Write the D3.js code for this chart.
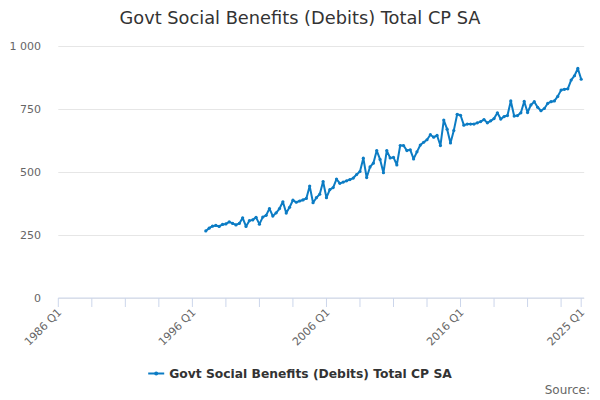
<!DOCTYPE html>
<html>
<head>
<meta charset="utf-8">
<script src="https://cdn.jsdelivr.net/npm/d3@7"></script>
<style>
  body { margin: 0; background: #fff; }
  svg { font-family: "DejaVu Sans", sans-serif; }
  .grid line { stroke: #e6e6e6; }
  .grid path { display: none; }
</style>
</head>
<body>
<div id="chart"></div>
<script>
// quarterly series, 1986 Q1 .. 2025 Q1 on the axis; data begins 1997 Q1
const FIRST_YEAR = 1986;
const LAST_LABEL = "2025 Q1";
const DATA_START = 44; // quarter index of 1997 Q1
const values = [
  266, 277, 285, 288, 284, 292, 294, 302, 296, 290, 296, 318,
  284, 307, 310, 320, 293, 321, 328, 355, 325, 338, 355, 382,
  337, 360, 388, 380, 385, 389, 395, 444, 378, 398, 412, 462,
  398, 430, 438, 472, 455, 460, 465, 470, 476, 490, 502, 555,
  478, 520, 535, 585, 550, 497, 585, 556, 558, 528, 605, 605,
  585, 588, 552, 580, 607, 618, 628, 648, 638, 645, 605, 706,
  670, 615, 665, 729, 725, 686, 690, 690, 690, 695, 700, 708,
  695, 703, 712, 735, 710, 720, 724, 782, 722, 724, 735, 780,
  736, 766, 779, 757, 743, 752, 772, 779, 782, 800, 825, 828,
  830, 865, 882, 911, 868
];
const yTicks = [0, 250, 500, 750, 1000];
const xTickIdx = [0, 10, 20, 30, 40, 50, 60, 70, 80, 90, 100, 110, 120, 130, 140, 150, 156];
const xLabelIdx = [0, 40, 80, 120, 156];
const seriesName = "Govt Social Benefits (Debits) Total CP SA";
const title = "Govt Social Benefits (Debits) Total CP SA";

const W = 600, H = 400;
const M = { left: 58.3, right: 18.8, top: 46, bottom: 102 };
const COLOR = "#0c7cc4";

const qLabel = i => `${FIRST_YEAR + Math.floor(i / 4)} Q${(i % 4) + 1}`;
const fmt = d3.formatLocale({ decimal: ".", thousands: " ", grouping: [3], currency: ["", ""] }).format(",");

const rows = values.map((v, k) => ({ q: DATA_START + k, v }));

const svg = d3.select("#chart").append("svg").attr("width", W).attr("height", H);

const x = d3.scaleLinear().domain([0, 156]).range([M.left, W - M.right]);
const y = d3.scaleLinear().domain([0, 1000]).range([H - M.bottom, M.top]);

// title
svg.append("text").attr("x", W / 2).attr("y", 24).attr("text-anchor", "middle")
  .style("font-size", "17.8px").style("fill", "#333").text(title);

// gridlines
svg.append("g").attr("class", "grid")
  .attr("transform", `translate(${M.left},0)`)
  .call(d3.axisLeft(y).tickValues(yTicks).tickSize(-(W - M.left - M.right + 3)).tickFormat(""));

// y labels
svg.append("g").selectAll("text").data(yTicks).join("text")
  .attr("x", 41).attr("y", d => y(d) + 4)
  .attr("text-anchor", "end")
  .style("font-size", "11px").style("fill", "#666")
  .text(d => fmt(d));

// x axis
const gx = svg.append("g").attr("transform", `translate(0,${y(0)})`);
gx.append("line").attr("x1", M.left).attr("x2", W - M.right + 3)
  .attr("stroke", "#ccd6eb");
gx.selectAll("line.tick").data(xTickIdx).join("line").attr("class", "tick")
  .attr("x1", d => x(d)).attr("x2", d => x(d)).attr("y1", 0).attr("y2", 9)
  .attr("stroke", "#ccd6eb");
gx.selectAll("text").data(xLabelIdx).join("text")
  .attr("transform", d => `translate(${x(d) + 4},${15}) rotate(-45)`)
  .attr("text-anchor", "end")
  .style("font-size", "11px").style("fill", "#666")
  .text(d => d === 156 ? LAST_LABEL : qLabel(d));

// line
const line = d3.line().x(d => x(d.q)).y(d => y(d.v));
svg.append("path").datum(rows)
  .attr("fill", "none").attr("stroke", COLOR).attr("stroke-width", 2)
  .attr("stroke-linejoin", "round").attr("d", line);
svg.append("g").selectAll("circle").data(rows).join("circle")
  .attr("cx", d => x(d.q)).attr("cy", d => y(d.v)).attr("r", 1.6)
  .attr("fill", COLOR);

// legend
const lg = svg.append("g");
const lt = lg.append("text").attr("x", 169).attr("y", 378)
  .style("font-size", "12.3px").style("font-weight", "bold").style("fill", "#333")
  .text(seriesName);
const tw = lt.node().getComputedTextLength();
const lx = (W - (tw + 21)) / 2;
lt.attr("x", lx + 21);
lg.append("line").attr("x1", lx).attr("x2", lx + 16).attr("y1", 373.5).attr("y2", 373.5)
  .attr("stroke", COLOR).attr("stroke-width", 2);
lg.append("circle").attr("cx", lx + 8).attr("cy", 373.5).attr("r", 2).attr("fill", COLOR);

// credits
svg.append("text").attr("x", 590).attr("y", 394).attr("text-anchor", "end")
  .style("font-size", "12px").style("fill", "#666").text("Source:");
</script>
</body>
</html>
